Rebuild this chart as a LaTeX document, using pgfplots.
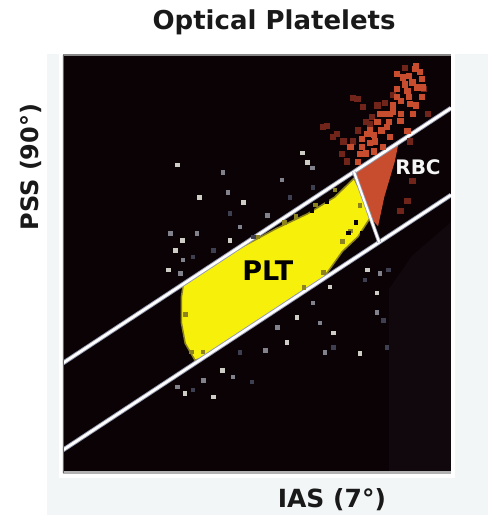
\documentclass[border=0pt]{standalone}
\usepackage{pgfplots}
\pgfplotsset{compat=1.18}
\usepackage{fontspec}
\setmainfont{DejaVu Sans}
\definecolor{bgblack}{RGB}{10,2,5}
\definecolor{rbcred}{RGB}{200,76,46}
\definecolor{rbcdark}{RGB}{112,36,26}
\definecolor{pltyel}{RGB}{246,240,10}
\definecolor{olivey}{RGB}{140,130,30}
\definecolor{dotlight}{RGB}{205,205,198}
\definecolor{dotmid}{RGB}{130,130,140}
\definecolor{dotdark}{RGB}{62,64,82}
\definecolor{fringe}{RGB}{150,155,178}
\definecolor{panel}{RGB}{243,246,247}
\definecolor{faint}{RGB}{16,8,13}
\begin{document}
\begin{tikzpicture}
\useasboundingbox (-63pt,-42pt) rectangle (425pt,473pt);
\fill[panel] (-16pt,-42pt) rectangle (425pt,419pt);
\fill[white] (-4pt,-5pt) rectangle (392pt,419pt);
\begin{axis}[
  width=388pt, height=418pt, scale only axis,
  xmin=0, xmax=100, ymin=0, ymax=100,
  xtick=\empty, ytick=\empty,
  axis line style={draw=none},
  axis background/.style={fill=bgblack},
  title={\bfseries Optical Platelets},
  title style={at={(axis description cs:0.544,1)}, anchor=base, yshift=19pt, font=\fontsize{26}{30}\selectfont, text=black!90},
  xlabel={\bfseries IAS (7°)},
  xlabel style={at={(axis description cs:0.693,-0.0837)}, anchor=base, font=\fontsize{25}{28}\selectfont, text=black!90},
  ylabel={\bfseries PSS (90°)},
  ylabel style={at={(axis description cs:-0.0644,0.732)}, anchor=base, font=\fontsize{24}{28}\selectfont, text=black!90},
]
% faint dark noise area at right
\addplot[draw=none, fill=faint] coordinates {(84,0) (100,0) (100,60) (90,52) (84,44) (84,0)};
% red scatter above the upper gate line
\addplot[only marks, mark=square*, mark size=2.6pt, rbcdark] coordinates {
(79.6,85.2) (77.3,87.6) (75.8,89.5) (79.1,83.5) (89.4,79.4) (72.2,79.4) (70.6,81.1)
(68.0,83.0) (74.7,79.4) (71.9,76.3) (73.2,74.6) (88.7,65.1) (86.9,62.7) (67.0,82.8)
(69.6,80.4) (74.7,89.7) (90.0,70.0) (85.0,90.5) (94.0,86.0) (81,88) (78,84) (76,82)
(88,97) (83,88.5) (93,92)
};
\addplot[only marks, mark=square*, mark size=2.6pt, rbcred] coordinates {
(89.4,88.3) (91.2,92.3) (92.5,94.3) (90.7,96.7) (87.6,94.7) (88.7,91.4) (86.1,95.5)
(84.3,85.9) (81.7,85.9) (83.5,82.8) (84.3,80.4) (82.5,78.0) (80.4,79.4) (78.4,81.1)
(86.9,84.2) (88.7,81.8) (90.2,85.9) (92.5,90.0) (92.8,92.3) (76.5,76.3) (74.0,78.0)
(77,80) (79,82) (81,84) (83,86) (85,88) (86,90) (88,93) (89,95) (91,97.5) (92,96)
(90,93.5) (87,89) (84,84) (82,82) (80,81) (85,86.5) (87,86) (89,90) (91,88)
(86,92) (76,74.5) (78,76.5) (80,77) (79,79) (77,78)
};
% RBC gated region
\addplot[draw=none, fill=rbcred] coordinates {(75.0,72.0) (86.5,79.0) (85.5,74.5) (82.8,66.0) (81.2,59.0) (78.5,62.0) (75.0,72.0)};
% PLT gated region
\addplot[draw=olivey, line width=1.5pt, fill=pltyel] coordinates {
(31,45) (45,53.5) (55,58.5) (63,62) (70,66) (75,70.5)
(77.5,66) (79.5,61.5) (76,56.5) (72,53) (67,46.5)
(60,42.5) (50,36) (42,31) (36,27.5) (34,27)
(31.5,31) (30.5,36) (30.5,42) (31,45)};
\addplot[only marks, mark=square*, mark size=1.8pt, olivey] coordinates {
(60,61.5) (65,64.2) (70,67.8) (57,60) (67,48) (72,55.5) (74,58) (33,29) (36,29)
(31.5,38) (76.5,64) (62,44.5) (50,56.5)
};
\addplot[only marks, mark=square*, mark size=1.6pt, bgblack] coordinates {
(75.5,60) (73.5,57.5) (68,65) (64,62.8) (77,57.5)
};
% scattered events
\addplot[only marks, mark=square*, mark size=1.7pt, dotlight] coordinates {
(29.4,73.7) (35.1,66.0) (46.4,64.8) (61.6,76.6) (62.9,74.4) (30.7,55.7) (28.9,53.3)
(27.1,48.6) (43.0,55.7) (78.4,48.6) (80.9,43.1) (69.6,33.5) (76.5,28.7) (57.7,31.3)
(41.0,24.6) (38.7,18.2) (31.4,19.1) (68.8,44.5) (60.3,37.3)
};
\addplot[only marks, mark=square*, mark size=1.7pt, dotmid] coordinates {
(41.2,72.0) (42.5,67.2) (56.4,70.1) (64.2,73.0) (27.6,57.4) (34.5,57.4) (30.9,51.0)
(30.2,47.8) (45.6,58.9) (52.6,61.7) (81.7,47.8) (80.9,38.5) (66.2,35.9) (67.5,28.9)
(52.1,29.4) (43.8,23.0) (36.1,22.2) (29.4,20.6) (64.4,40.7) (55.2,34.9)
};
\addplot[only marks, mark=square*, mark size=1.7pt, dotdark] coordinates {
(43.0,62.2) (58.5,66.0) (64.4,68.4) (33.5,51.7) (38.7,53.3) (49.0,56.5) (83.8,48.6)
(82.5,36.6) (69.6,30.1) (83.5,30.1) (45.6,28.9) (48.7,21.8) (33.5,19.9) (77.8,46.2)
};
% gate lines
\addplot[fringe, line width=4.5pt] coordinates {(0,26.3) (100,87.3)};
\addplot[white, line width=2.6pt] coordinates {(0,26.3) (100,87.3)};
\addplot[fringe, line width=4.5pt] coordinates {(0,5.5) (100,66.5)};
\addplot[white, line width=2.6pt] coordinates {(0,5.5) (100,66.5)};
\addplot[fringe, line width=3.8pt] coordinates {(75.0,72.0) (81.5,55.2)};
\addplot[white, line width=2.2pt] coordinates {(75.0,72.0) (81.5,55.2)};
% labels
\node[font=\bfseries\fontsize{20}{24}\selectfont, text=white!92!gray] at (axis cs:91.5,73.2) {RBC};
\node[font=\bfseries\fontsize{27}{32}\selectfont, text=black] at (axis cs:52.8,48.3) {PLT};
% frame
\draw[black!47, line width=3pt] (rel axis cs:0,1) -- (rel axis cs:1,1);
\draw[black!30, line width=3.5pt] (rel axis cs:0,0) -- (rel axis cs:1,0);
\draw[black!60, line width=1.2pt] (rel axis cs:0,0) -- (rel axis cs:0,1);
\end{axis}
\end{tikzpicture}
\end{document}
